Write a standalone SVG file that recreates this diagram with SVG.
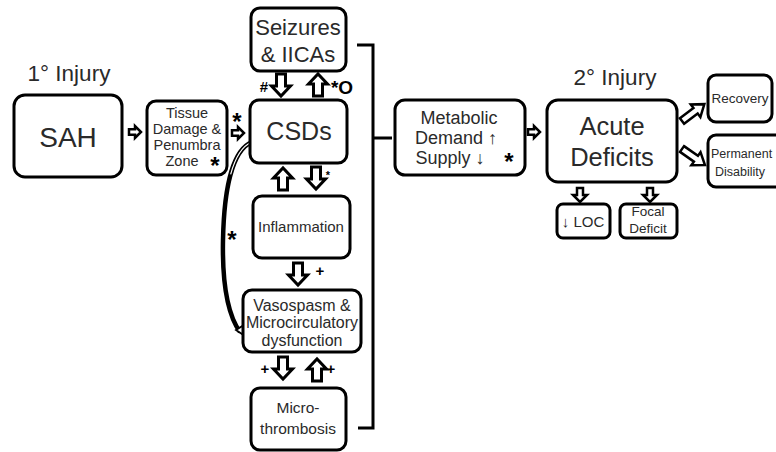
<svg xmlns="http://www.w3.org/2000/svg" width="776" height="452" viewBox="0 0 776 452">
<style>
.box{fill:#fff;stroke:#000;stroke-width:3}
.t{font-family:"Liberation Sans",Arial,sans-serif;fill:#2a2a2a;text-anchor:middle}
.s{font-family:"Liberation Sans",Arial,sans-serif;fill:#000;font-weight:bold;text-anchor:middle}
.ar{fill:#fff;stroke:#000;stroke-width:3;stroke-linejoin:miter}
.ar2{fill:#fff;stroke:#000;stroke-width:2.5}
.ln{fill:none;stroke:#000;stroke-width:3}
</style>
<defs>
<path id="down" d="M-4.5,0 H4.5 V12 H9.5 L0,22 L-9.5,12 H-4.5 Z"/>
<path id="right" d="M0,-2.8 H6 V-6 L12,0 L6,6 V2.8 H0 Z"/>
<path id="diag" d="M0,-3.5 H17 V-8 L28,0 L17,8 V3.5 H0 Z"/>
<path id="sdown" d="M-3,0 H3 V7 H7 L0,14 L-7,7 H-3 Z"/>
</defs>
<rect width="776" height="452" fill="#fff"/>
<text class="t" x="69" y="81" font-size="22.5">1° Injury</text>
<text class="t" x="615" y="85" font-size="22.5">2° Injury</text>

<g id="connectors">
<use href="#right" class="ar2" transform="translate(129,132)"/>
<use href="#right" class="ar2" transform="translate(232,133)"/>
<use href="#right" class="ar2" transform="translate(528,132)"/>
<use href="#down" class="ar" transform="translate(281,74)"/>
<use href="#down" class="ar" transform="translate(318,96) rotate(180)"/>
<use href="#down" class="ar" transform="translate(283,190) rotate(180)"/>
<use href="#down" class="ar" transform="translate(316,167)"/>
<use href="#down" class="ar" transform="translate(298,263)"/>
<use href="#down" class="ar" transform="translate(283,357)"/>
<use href="#down" class="ar" transform="translate(317,381) rotate(180)"/>
<use href="#diag" class="ar2" transform="translate(682,121) rotate(-37)"/>
<use href="#diag" class="ar2" transform="translate(682,149) rotate(35)"/>
<use href="#sdown" class="ar2" transform="translate(580,188)"/>
<use href="#sdown" class="ar2" transform="translate(650,188)"/>
<path d="M252,142 C232,150 224,190 223,240 C222,290 230,318 240,332" fill="none" stroke="#000" stroke-width="4.5"/>
<path d="M252,142 C232,150 224,190 223,240 C222,290 230,318 240,332" fill="none" stroke="#fff" stroke-width="1.2" stroke-dasharray="40 400"/>
<path d="M236,330 L244,325 L248,338 Z" fill="#fff" stroke="#000" stroke-width="1.8"/>
<path class="ln" d="M357,45 H373 V428 H358 M373,138 H392"/>
<text class="s" x="237" y="130" font-size="24">*</text>
<text class="s" x="264" y="92" font-size="15">#</text>
<text class="s" x="342" y="94" font-size="19">*O</text>
<text class="s" x="328" y="179" font-size="11">*</text>
<text class="s" x="320" y="276" font-size="15">+</text>
<text class="s" x="232" y="248" font-size="24">*</text>
<text class="s" x="265" y="374" font-size="15">+</text>
<text class="s" x="331" y="374" font-size="15">+</text>
</g>

<g id="sah"><rect class="box" x="14" y="95" width="108" height="82" rx="11"/><text class="t" x="68" y="147" font-size="28">SAH</text></g>
<g id="tissue"><rect class="box" x="147" y="101" width="80" height="74" rx="9"/>
<text class="t" font-size="14.5"><tspan x="187" y="118">Tissue</tspan><tspan x="187" y="134">Damage &amp;</tspan><tspan x="187" y="150">Penumbra</tspan><tspan x="182" y="166">Zone</tspan></text>
<text class="s" x="215" y="174" font-size="24">*</text></g>
<g id="seizures"><rect class="box" x="251" y="8" width="95" height="63" rx="9"/>
<text class="t" font-size="22"><tspan x="298" y="35">Seizures</tspan><tspan x="298" y="62">&amp; IICAs</tspan></text></g>
<g id="csds"><rect class="box" x="250" y="100" width="97" height="63" rx="9"/><text class="t" x="299" y="140" font-size="25">CSDs</text></g>
<g id="inflammation"><rect class="box" x="253" y="196" width="97" height="62" rx="9"/><text class="t" x="301" y="232" font-size="15">Inflammation</text></g>
<g id="vasospasm"><rect class="box" x="243" y="290" width="118" height="62" rx="9"/>
<text class="t" font-size="16"><tspan x="302" y="311">Vasospasm &amp;</tspan><tspan x="302" y="328">Microcirculatory</tspan><tspan x="302" y="346">dysfunction</tspan></text></g>
<g id="microthrombosis"><rect class="box" x="251" y="388" width="95" height="62" rx="9"/>
<text class="t" font-size="15.5"><tspan x="298" y="413">Micro-</tspan><tspan x="298" y="434">thrombosis</tspan></text></g>
<g id="metabolic"><rect class="box" x="395" y="100" width="130" height="75" rx="10"/>
<text class="t" font-size="18"><tspan x="459" y="124">Metabolic</tspan><tspan x="456" y="144">Demand ↑</tspan><tspan x="450" y="164">Supply ↓</tspan></text>
<text class="s" x="509" y="170" font-size="24">*</text></g>
<g id="acute"><rect class="box" x="547" y="100" width="130" height="82" rx="11"/>
<text class="t" font-size="25.5"><tspan x="612" y="135">Acute</tspan><tspan x="612" y="166">Deficits</tspan></text></g>
<g id="recovery"><rect class="box" x="708" y="75" width="64" height="47" rx="8"/><text class="t" x="740" y="103" font-size="13.5">Recovery</text></g>
<g id="permanent"><rect class="box" x="708" y="135" width="80" height="52" rx="8"/>
<text class="t" font-size="12.5"><tspan x="711" y="158" style="text-anchor:start">Permanent</tspan><tspan x="715" y="176" style="text-anchor:start">Disability</tspan></text></g>
<g id="loc"><rect class="box" x="557" y="204" width="53" height="34" rx="6"/><text class="t" x="583" y="227" font-size="15">↓ LOC</text></g>
<g id="focal"><rect class="box" x="620" y="204" width="57" height="34" rx="6"/>
<text class="t" font-size="13.5"><tspan x="648" y="216">Focal</tspan><tspan x="648" y="233">Deficit</tspan></text></g>
</svg>
